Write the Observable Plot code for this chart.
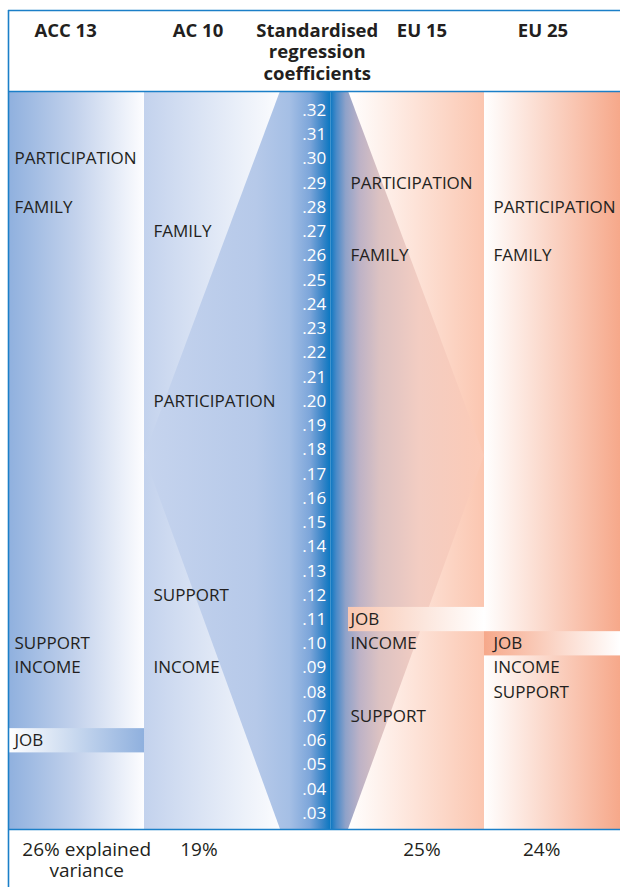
<!DOCTYPE html>
<html><head><meta charset="utf-8">
<script src="https://cdn.jsdelivr.net/npm/d3@7"></script>
<script src="https://cdn.jsdelivr.net/npm/@observablehq/plot@0.6"></script>
<style>body{margin:0;background:#fff}</style>
</head><body><div id="chart"></div>
<script>
// ---------- data ----------
const columns = ["ACC 13", "AC 10", "EU 15", "EU 25"];
const variance = ["26% explained\nvariance", "19%", "25%", "24%"];
const centreTitle = "Standardised\nregression\ncoefficients";
const tickValues = [0.32,0.31,0.30,0.29,0.28,0.27,0.26,0.25,0.24,0.23,0.22,0.21,0.20,0.19,0.18,0.17,0.16,0.15,0.14,0.13,0.12,0.11,0.10,0.09,0.08,0.07,0.06,0.05,0.04,0.03];
const tickLabels = [".32",".31",".30",".29",".28",".27",".26",".25",".24",".23",".22",".21",".20",".19",".18",".17",".16",".15",".14",".13",".12",".11",".10",".09",".08",".07",".06",".05",".04",".03"];
const acc13 = [
  {label: "PARTICIPATION", value: 0.30},
  {label: "FAMILY", value: 0.28},
  {label: "SUPPORT", value: 0.10},
  {label: "INCOME", value: 0.09},
  {label: "JOB", value: 0.06}
];
const ac10 = [
  {label: "FAMILY", value: 0.27},
  {label: "PARTICIPATION", value: 0.20},
  {label: "SUPPORT", value: 0.12},
  {label: "INCOME", value: 0.09}
];
const eu15 = [
  {label: "PARTICIPATION", value: 0.29},
  {label: "FAMILY", value: 0.26},
  {label: "JOB", value: 0.11},
  {label: "INCOME", value: 0.10},
  {label: "SUPPORT", value: 0.07}
];
const eu25 = [
  {label: "PARTICIPATION", value: 0.28},
  {label: "FAMILY", value: 0.26},
  {label: "JOB", value: 0.10},
  {label: "INCOME", value: 0.09},
  {label: "SUPPORT", value: 0.08}
];
const series = [acc13, ac10, eu15, eu25];
const highlight = "JOB";

// ---------- layout (column units) ----------
const colSpan = [[0, 1], [1, 2], [2.5, 3.5], [3.5, 4.5]];
const centreSpan = [2, 2.5];
const strip = 2.37;
const tickX = 2.16;
const labelDx = [6, 9, 2, 9];
const headerX = [0.42, 1.393, 3.04, 3.93];
const footerX = [0.575, 1.40, 3.04, 3.92];
const centreX = 2.27;
const yDomain = [0.0234, 0.3278];
const waist = 0.1775;
const bandHalf = 0.005;

const blue = "#1b7fc8";
const ink = "#231f20";

const colGrad = ["g-acc13", "g-ac10", "g-eu15", "g-eu25"];
const bandGrad = ["b-acc13", null, "b-eu15", "b-eu25"];
const gradients = {
  "g-acc13": [[0, "#8fb0de"], [0.5, "#c3d2ec"], [1, "#fdfdff"]],
  "g-ac10": [[0, "#c3d2ed"], [1, "#fbfcfe"]],
  "g-hexL": [[0, "#c6d4ee"], [0.6, "#b6c9e9"], [0.78, "#a5bfe5"], [0.89, "#7da6da"], [0.955, "#3d87c9"], [1, "#0a77c1"]],
  "g-hexR": [[0, "#0a77c1"], [0.04, "#4a8ac8"], [0.1, "#8fa2c9"], [0.19, "#bdb2c6"], [0.32, "#dcc2c2"], [0.58, "#f3cdc2"], [1, "#fccab6"]],
  "g-eu15": [[0, "#ffffff"], [1, "#fbc6b0"]],
  "g-eu25": [[0, "#ffffff"], [1, "#f6a88a"]],
  "b-acc13": [[0, "#ffffff"], [1, "#8fb0de"]],
  "b-eu15": [[0, "#f8c7b2"], [1, "#ffffff"]],
  "b-eu25": [[0, "#f6a88a"], [1, "#ffffff"]]
};

// ---------- derived tables ----------
const hexLeft = [
  {y: yDomain[1], x1: centreSpan[0], x2: strip},
  {y: waist, x1: colSpan[1][0], x2: strip},
  {y: yDomain[0], x1: centreSpan[0], x2: strip}
];
const hexRight = [
  {y: yDomain[1], x1: strip, x2: centreSpan[1]},
  {y: waist, x1: strip, x2: colSpan[2][1]},
  {y: yDomain[0], x1: strip, x2: centreSpan[1]}
];
const labels = series.flatMap((s, i) => s.map(d => ({...d, x: colSpan[i][0], col: i})));
const bands = labels.filter(d => d.label === highlight && bandGrad[d.col]);
const ticks = tickValues.map((v, i) => ({value: v, text: tickLabels[i]}));
const headers = columns.map((c, i) => ({text: c, x: headerX[i]})).concat([{text: centreTitle, x: centreX}]);
const footers = variance.map((t, i) => ({text: t, x: footerX[i]}));

const font = "'Open Sans', 'Noto Sans', sans-serif";

const marks = [];
colSpan.forEach((s, i) => {
  marks.push(Plot.rect([s], {x1: d => d[0], x2: d => d[1], y1: yDomain[0], y2: yDomain[1], fill: `url(#${colGrad[i]})`}));
});
marks.push(Plot.areaX(hexLeft, {y: "y", x1: "x1", x2: "x2", fill: "url(#g-hexL)"}));
marks.push(Plot.areaX(hexRight, {y: "y", x1: "x1", x2: "x2", fill: "url(#g-hexR)"}));
bands.forEach(b => {
  marks.push(Plot.rect([b], {x1: colSpan[b.col][0], x2: colSpan[b.col][1], y1: d => d.value - bandHalf, y2: d => d.value + bandHalf, fill: `url(#${bandGrad[b.col]})`}));
});
marks.push(Plot.ruleY(yDomain, {stroke: blue, strokeWidth: 1.6}));
marks.push(Plot.ruleY([yDomain[1]], {stroke: blue, strokeWidth: 1.6, dy: -81}));
marks.push(Plot.ruleX([0], {stroke: blue, strokeWidth: 1.6, insetTop: -81, insetBottom: -60}));
marks.push(Plot.text(ticks, {x: tickX, y: "value", text: "text", fill: "white", textAnchor: "start", fontSize: 17, lineAnchor: "middle"}));
series.forEach((s, i) => {
  marks.push(Plot.text(labels.filter(d => d.col === i), {x: "x", y: "value", text: "label", fill: ink, textAnchor: "start", dx: labelDx[i], fontSize: 17, lineAnchor: "middle"}));
});
marks.push(Plot.text(headers, {x: "x", frameAnchor: "top", text: "text", fill: ink, fontWeight: "bold", fontSize: 18.5, lineAnchor: "top", dy: -70, lineHeight: 1.165}));
marks.push(Plot.text(footers, {x: "x", frameAnchor: "bottom", text: "text", fill: ink, fontSize: 19, lineAnchor: "top", dy: 11.5, lineHeight: 1.1}));

const svg = Plot.plot({
  width: 620,
  height: 887,
  marginTop: 91,
  marginBottom: 58,
  marginLeft: 8,
  marginRight: 0,
  x: {domain: [0, 4.5], axis: null},
  y: {domain: yDomain, axis: null},
  style: {fontFamily: font, background: "white", overflow: "visible"},
  marks
});

const defs = d3.select(svg).insert("defs", ":first-child");
for (const [id, stops] of Object.entries(gradients)) {
  const g = defs.append("linearGradient").attr("id", id).attr("x1", 0).attr("x2", 1).attr("y1", 0).attr("y2", 0);
  for (const [o, c] of stops) g.append("stop").attr("offset", o).attr("stop-color", c);
}
document.getElementById("chart").appendChild(svg);
</script>
</body></html>
